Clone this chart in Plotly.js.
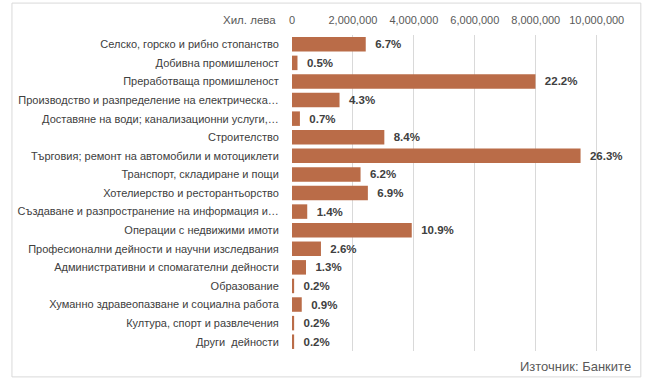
<!DOCTYPE html>
<html>
<head>
<meta charset="utf-8">
<script src="https://cdn.plot.ly/plotly-3.0.1.min.js"></script>
<style>html,body{margin:0;padding:0;background:#fff;}#chart{width:645px;height:383px;}</style>
</head>
<body>
<div id="chart"></div>
<script>
const categories = [
  "Селско, горско и рибно стопанство",
  "Добивна промишленост",
  "Преработваща промишленост",
  "Производство и разпределение на електрическа…",
  "Доставяне на води; канализационни услуги,…",
  "Строителство",
  "Търговия; ремонт на автомобили и мотоциклети",
  "Транспорт, складиране и пощи",
  "Хотелиерство и ресторантьорство",
  "Създаване и разпространение на информация и…",
  "Операции с недвижими имоти",
  "Професионални дейности и научни изследвания",
  "Административни и спомагателни дейности",
  "Образование",
  "Хуманно здравеопазване и социална работа",
  "Култура, спорт и развлечения",
  "Други  дейности"
];
const values = [2420000, 180000, 7990000, 1560000, 260000, 3030000, 9470000, 2250000, 2490000, 500000, 3930000, 950000, 460000, 70000, 320000, 70000, 70000];
const shares = ["6.7%", "0.5%", "22.2%", "4.3%", "0.7%", "8.4%", "26.3%", "6.2%", "6.9%", "1.4%", "10.9%", "2.6%", "1.3%", "0.2%", "0.9%", "0.2%", "0.2%"];
const tickVals = [0, 2000000, 4000000, 6000000, 8000000, 10000000];
const tickText = ["0", "2,000,000", "4,000,000", "6,000,000", "8,000,000", "10,000,000"];

const FONT = '"Liberation Sans", Arial, sans-serif';

const trace = {
  type: 'bar',
  orientation: 'h',
  x: values,
  y: categories,
  text: shares,
  texttemplate: '\u00a0\u00a0%{text}',
  textposition: 'outside',
  cliponaxis: false,
  textfont: {family: FONT, size: 11.5, color: '#404040', weight: 'bold'},
  marker: {color: '#ba6c48'},
  width: 0.78,
  hoverinfo: 'none'
};

const layout = {
  width: 645, height: 383,
  margin: {l: 291.5, r: 30, t: 35, b: 32},
  paper_bgcolor: '#ffffff', plot_bgcolor: '#ffffff',
  showlegend: false,
  font: {family: FONT, size: 11, color: '#404040'},
  xaxis: {
    side: 'top', range: [0, 10600000],
    tickvals: tickVals, ticktext: tickText,
    showgrid: true, gridcolor: 'rgba(0,0,0,0.15)', gridwidth: 1,
    layer: 'above traces',
    zeroline: false, showline: false,
    ticks: 'outside', ticklen: 6, tickcolor: 'rgba(0,0,0,0)',
    tickfont: {family: FONT, size: 11, color: '#595959'}
  },
  yaxis: {
    autorange: 'reversed', type: 'category',
    showgrid: false, zeroline: false, showline: false,
    ticks: 'outside', ticklen: 10, tickcolor: 'rgba(0,0,0,0)',
    tickfont: {family: FONT, size: 11, color: '#404040'}
  },
  annotations: [
    {text: 'Хил. лева', xref: 'paper', yref: 'paper', x: 0, y: 1, xshift: -14, yshift: 15,
     xanchor: 'right', yanchor: 'middle', showarrow: false,
     font: {family: FONT, size: 11.5, color: '#595959'}},
    {text: 'Източник: Банките', xref: 'paper', yref: 'paper', x: 1, y: 0, xshift: 18, yshift: -15,
     xanchor: 'right', yanchor: 'middle', showarrow: false,
     font: {family: FONT, size: 13, color: '#595959'}}
  ],
  shapes: [
    {type: 'rect', xref: 'paper', yref: 'paper', x0: -0.867, x1: 1.08, y0: -0.082, y1: 1.101,
     line: {color: '#d9d9d9', width: 1}, fillcolor: 'rgba(0,0,0,0)', layer: 'below'}
  ]
};

Plotly.newPlot('chart', [trace], layout, {staticPlot: true, displayModeBar: false});
</script>
</body>
</html>
